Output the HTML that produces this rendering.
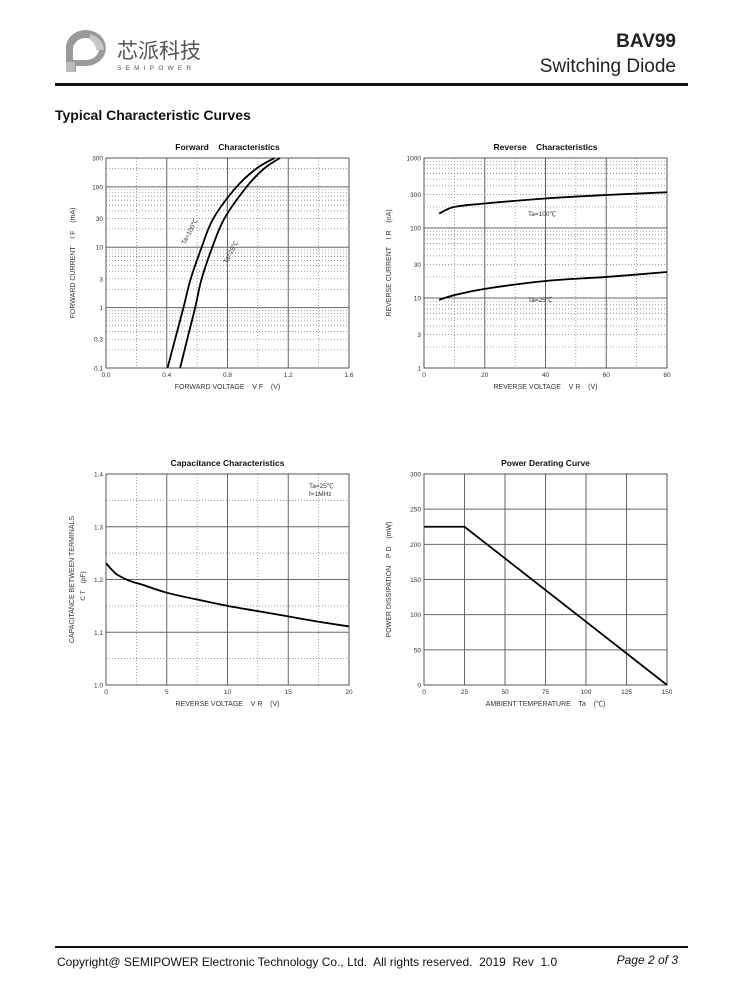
<!DOCTYPE html>
<html><head><meta charset="utf-8"><style>
body{margin:0;background:#fff;}
#page{position:relative;width:738px;height:1000px;font-family:"Liberation Sans","Noto Sans CJK SC",sans-serif;}
svg text{font-family:"Liberation Sans","Noto Sans CJK SC",sans-serif;white-space:pre;}
</style></head><body>
<div id="page">
<svg width="738" height="1000" id="svg">
  <g>
    <path d="M66 72 V50 A20 18 0 1 1 86 66 H76 V72 Z" fill="#9a9a9a"/>
    <path d="M73 60 V50 A13 11 0 1 1 86 60 Z" fill="#fff"/>
    <path d="M90 34 A20 18 0 0 1 104 50 L96 50 A12 11 0 0 0 90 40 Z" fill="#c8c8c8"/>
    <rect x="66" y="62" width="9" height="10" fill="#bbb"/>
    <text x="117" y="58" font-size="21" fill="#555" font-family="Noto Sans CJK SC,sans-serif">芯派科技</text>
    <text x="117" y="70" font-size="6.5" fill="#555" letter-spacing="4.2">SEMIPOWER</text>
  </g>
  <text x="676" y="47" font-size="19" font-weight="bold" text-anchor="end" fill="#222">BAV99</text>
  <text x="676" y="72" font-size="19" text-anchor="end" fill="#222">Switching Diode</text>
  <rect x="55" y="83" width="633" height="3" fill="#111"/>
  <text x="55" y="120" font-size="14" font-weight="bold" fill="#111">Typical Characteristic Curves</text>
  <rect x="55" y="946" width="633" height="2" fill="#111"/>
  <text x="57" y="966" font-size="12" fill="#111">Copyright@ SEMIPOWER Electronic Technology Co., Ltd.  All rights reserved.  2019  Rev  1.0</text>
  <text x="678" y="964" font-size="12" font-style="italic" text-anchor="end" fill="#111">Page 2 of 3</text>
  <g id="charts"></g>
</svg>
</div>
<script>
// Forward characteristics data
const fwdCurrents = [0.1, 0.3, 1, 3, 10, 30, 100, 200, 300];
const fwdV100 = [0.405, 0.455, 0.51, 0.558, 0.63, 0.707, 0.86, 0.99, 1.11];
const fwdV25 = [0.488, 0.535, 0.587, 0.63, 0.70, 0.78, 0.926, 1.04, 1.145];
const fwdXTicks = ["0.0","0.4","0.8","1.2","1.6"];
const fwdYTicks = ["0.1","0.3","1","3","10","30","100","300"];
// Reverse characteristics data
const revVolts = [5, 10, 20, 40, 60, 80];
const revI100 = [161, 200, 224, 264, 296, 324];
const revI25 = [9.4, 11, 13.5, 17.5, 20, 23.5];
const revXTicks = ["0","20","40","60","80"];
const revYTicks = ["1","3","10","30","100","300","1000"];
// Capacitance data
const capVolts = [0, 0.5, 1, 2, 3, 5, 7.5, 10, 12.5, 15, 17.5, 20];
const capValues = [1.231, 1.218, 1.208, 1.197, 1.19, 1.175, 1.162, 1.150, 1.14, 1.13, 1.12, 1.111];
const capXTicks = ["0","5","10","15","20"];
const capYTicks = ["1.0","1.1","1.2","1.3","1.4"];
// Power derating data
const pdTemps = [0, 25, 150];
const pdPower = [225, 225, 0];
const pdXTicks = ["0","25","50","75","100","125","150"];
const pdYTicks = ["0","50","100","150","200","250","300"];

const NS="http://www.w3.org/2000/svg";
const root=document.getElementById('charts');
function mk(tag,attrs,parent){const e=document.createElementNS(NS,tag);for(const k in attrs)e.setAttribute(k,attrs[k]);(parent||root).appendChild(e);return e;}
function txt(parent,x,y,s,size,extra){const t=mk('text',Object.assign({x:x,y:y,'font-size':size,fill:'#333'},extra||{}),parent);t.textContent=s;return t;}

function makeChart(o){
  const g=mk('g',{});
  
  
  const L=o.x0,R=o.x1,T=o.y0,B=o.y1;
  const sx=v=>L+(v-o.xmin)/(o.xmax-o.xmin)*(R-L);
  const sy=o.log?(v=>B-(Math.log10(v)-Math.log10(o.ymin))/(Math.log10(o.ymax)-Math.log10(o.ymin))*(B-T)):(v=>B-(v-o.ymin)/(o.ymax-o.ymin)*(B-T));
  (o.minorX||[]).forEach(v=>mk('line',{x1:sx(v),x2:sx(v),y1:T,y2:B,stroke:'#777','stroke-width':0.7,'stroke-dasharray':'1 2'},g));
  (o.minorY||[]).forEach(v=>mk('line',{x1:L,x2:R,y1:sy(v),y2:sy(v),stroke:'#777','stroke-width':0.7,'stroke-dasharray':'1 2'},g));
  (o.majorX||[]).forEach(v=>mk('line',{x1:sx(v),x2:sx(v),y1:T,y2:B,stroke:'#666','stroke-width':1},g));
  (o.majorY||[]).forEach(v=>mk('line',{x1:L,x2:R,y1:sy(v),y2:sy(v),stroke:'#666','stroke-width':1},g));
  mk('rect',{x:L,y:T,width:R-L,height:B-T,fill:'none',stroke:'#555','stroke-width':1},g);
  o.xTicks.forEach(s=>{const t=txt(g,sx(parseFloat(s)),B+9,s,6.5,{'text-anchor':'middle'});});
  o.yTicks.forEach(s=>{const t=txt(g,L-3,sy(parseFloat(s))+2.5,s,6.5,{'text-anchor':'end'});});
  const ti=txt(g,(L+R)/2,T-8,o.title,8.5,{'text-anchor':'middle','font-weight':'bold',fill:'#111'});
  
  const xt=txt(g,(L+R)/2,B+21,o.xLabel,7,{'text-anchor':'middle'});
  
  const yt=txt(g,0,0,o.yLabel,7,{'text-anchor':'middle',transform:`translate(${o.yLabX},${(T+B)/2}) rotate(-90)`});
  
  o.series.forEach(s=>{
    const pts=s.xs.map((x,i)=>[sx(x),sy(s.ys[i])]);
    let d='M'+pts[0][0]+' '+pts[0][1];
    if(s.smooth){for(let i=0;i<pts.length-1;i++){const p0=pts[i-1]||pts[i],p1=pts[i],p2=pts[i+1],p3=pts[i+2]||p2;
      d+=` C${p1[0]+(p2[0]-p0[0])/6} ${p1[1]+(p2[1]-p0[1])/6} ${p2[0]-(p3[0]-p1[0])/6} ${p2[1]-(p3[1]-p1[1])/6} ${p2[0]} ${p2[1]}`;}}
    else pts.slice(1).forEach(p=>d+=' L'+p[0]+' '+p[1]);
    const p=mk('path',{d:d,fill:'none',stroke:'#000','stroke-width':1.8},g);
    
  });
  (o.notes||[]).forEach(n=>{const t=txt(g,n.x,n.y,n.s,6.5,Object.assign({fill:'#333'},n.extra||{}));});
}
function decadeMinors(a,b){const r=[];for(let d=a;d<b;d*=10)for(let k=2;k<=9;k++)r.push(d*k);return r;}

makeChart({name:'forward-characteristics-chart',x0:106,x1:349,y0:158,y1:368,xmin:0,xmax:1.6,ymin:0.1,ymax:300,log:true,
  majorX:[0.4,0.8,1.2],minorX:[0.2,0.6,1.0,1.4],majorY:[1,10,100],minorY:decadeMinors(0.1,1000).filter(v=>v<300),
  xTicks:fwdXTicks,yTicks:fwdYTicks,title:'Forward    Characteristics',xLabel:'FORWARD VOLTAGE    V F    (V)',yLabel:'FORWARD CURRENT    I F    (mA)',yLabX:75,
  series:[{name:'forward-curve-100c',xs:fwdV100,ys:fwdCurrents,smooth:true},{name:'forward-curve-25c',xs:fwdV25,ys:fwdCurrents,smooth:true}],
  notes:[{x:185,y:245,s:'Ta=100℃',name:'label-ta-100',extra:{transform:'rotate(-62 185 245)'}},{x:227,y:264,s:'Ta=25℃',name:'label-ta-25',extra:{transform:'rotate(-62 227 264)'}}]});

makeChart({name:'reverse-characteristics-chart',x0:424,x1:667,y0:158,y1:368,xmin:0,xmax:80,ymin:1,ymax:1000,log:true,
  majorX:[20,40,60],minorX:[10,30,50,70],majorY:[10,100],minorY:decadeMinors(1,1000),
  xTicks:revXTicks,yTicks:revYTicks,title:'Reverse    Characteristics',xLabel:'REVERSE VOLTAGE    V R    (V)',yLabel:'REVERSE CURRENT    I R    (nA)',yLabX:391,
  series:[{name:'reverse-curve-100c',xs:revVolts,ys:revI100,smooth:true},{name:'reverse-curve-25c',xs:revVolts,ys:revI25,smooth:true}],
  notes:[{x:528,y:216,s:'Ta=100℃',name:'label-ta-100'},{x:528,y:302,s:'Ta=25℃',name:'label-ta-25'}]});

makeChart({name:'capacitance-chart',x0:106,x1:349,y0:474,y1:685,xmin:0,xmax:20,ymin:1.0,ymax:1.4,log:false,
  majorX:[5,10,15],minorX:[2.5,7.5,12.5,17.5],majorY:[1.1,1.2,1.3],minorY:[1.05,1.15,1.25,1.35],
  xTicks:capXTicks,yTicks:capYTicks,title:'Capacitance Characteristics',xLabel:'REVERSE VOLTAGE    V R    (V)',yLabel:'CAPACITANCE BETWEEN TERMINALS',yLabX:74,
  series:[{name:'capacitance-curve',xs:capVolts,ys:capValues,smooth:true}],
  notes:[{x:309,y:488,s:'Ta=25℃',name:'condition-temp'},{x:309,y:496,s:'f=1MHz',name:'condition-freq'},{x:85,y:586,s:'C T    (pF)',name:'y-axis-unit',extra:{transform:'rotate(-90 85 586)','text-anchor':'middle'}}]});

makeChart({name:'power-derating-chart',x0:424,x1:667,y0:474,y1:685,xmin:0,xmax:150,ymin:0,ymax:300,log:false,
  majorX:[25,50,75,100,125],minorX:[],majorY:[50,100,150,200,250],minorY:[],
  xTicks:pdXTicks,yTicks:pdYTicks,title:'Power Derating Curve',xLabel:'AMBIENT TEMPERATURE    Ta    (℃)',yLabel:'POWER DISSIPATION    P D    (mW)',yLabX:391,
  series:[{name:'power-derating-line',xs:pdTemps,ys:pdPower,smooth:false}]});
</script>
</body></html>
